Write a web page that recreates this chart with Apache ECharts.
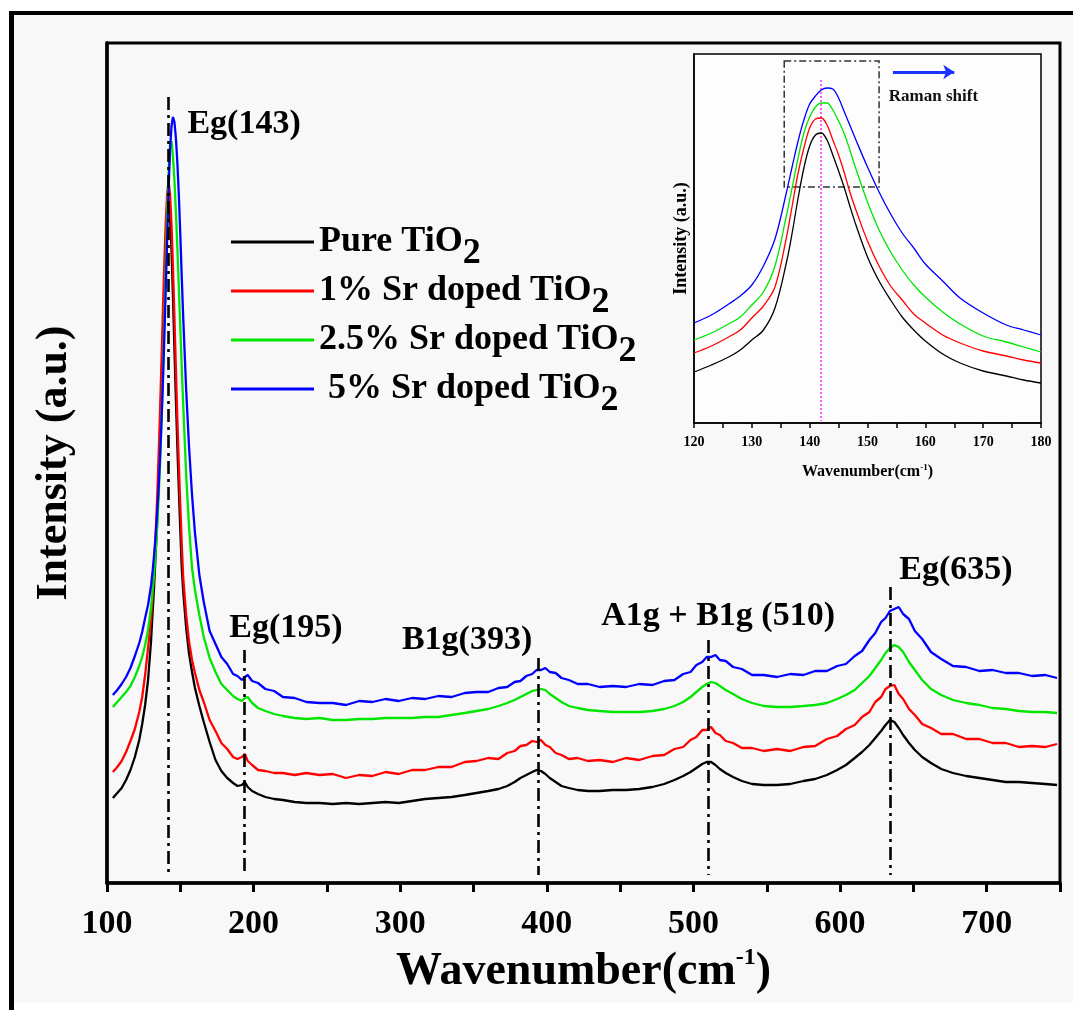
<!DOCTYPE html>
<html><head><meta charset="utf-8">
<script src="https://cdn.jsdelivr.net/npm/echarts/dist/echarts.min.js"></script>
<style>html,body{margin:0;padding:0;background:#fff}#c{width:1073px;height:1010px}</style>
</head><body><div id="c"></div>
<script>
// ---------- DATA (main Raman spectra, intensity in arbitrary units) ----------
const wavenumber = [104,107,110,113,116,119,122,124,126,128,130,
131,132,133,134,135,136,137,138,139,140,141,142,143,144,145,146,147,148,149,150,151,152,
154,156,158,160,
163,166,170,174,178,182,186,189,192,194,196,199,203,208,214,220,228,236,
245,254,263,272,281,290,299,308,317,326,335,344,
352,360,367,373,378,382,386,390,393,396,399,402,406,410,415,421,428,436,445,454,463,472,480,487,493,498,502,506,509,512,515,518,522,527,533,540,548,557,566,575,583,591,598,604,610,615,620,624,628,631,634,637,640,643,647,651,656,662,669,677,686,695,704,713,722,731,740,748];

const pureTiO2 = [202,207,212,220,230,243,260,276,295,320,358,
385,410,440,472,513,559,607,658,707,750,782,795,782,750,703,650,600,553,510,470,432,408,
372,346,328,312,
294,278,258,240,229,222,217,214,215,218,213,209,206,203,201,200,198,197,
197,196,197,196,197,198,197,199,201,202,203,205,
207,209,211,214,218,222,225,228,230,229,226,222,218,214,212,210,209,209,210,210,211,213,216,220,224,228,232,236,238,238,235,231,227,223,219,216,215,215,216,219,221,225,230,235,242,248,255,262,269,275,280,278,272,265,257,250,243,237,231,227,224,222,220,218,218,217,216,215];

const sr1 = [228,233,239,248,259,271,288,303,325,352,380,
402,430,460,494,535,580,630,682,732,775,806,818,806,775,732,682,630,580,535,494,455,422,
385,358,340,327,
310,298,280,269,257,251,243,241,243,246,239,235,230,229,227,227,225,227,
225,226,222,225,224,228,226,230,230,233,233,238,
239,242,241,247,249,254,255,259,258,260,255,253,247,245,241,242,239,240,238,242,240,244,245,251,253,260,263,270,270,273,267,265,259,257,252,252,249,251,249,253,254,261,264,271,275,283,288,298,303,311,314,315,306,301,291,285,276,272,266,266,261,261,257,257,253,254,253,256];

const sr25 = [293,298,303,308,314,323,334,343,355,370,392,
407,424,444,467,496,530,571,617,671,727,783,828,855,859,843,820,788,752,712,672,632,595,
525,472,432,410,
385,363,342,328,316,310,304,301,299,302,303,297,292,289,286,284,282,281,
282,280,280,281,281,282,282,282,283,283,285,287,
289,291,294,297,300,303,306,309,310,311,310,306,302,298,294,292,290,289,288,288,288,289,291,294,298,303,308,313,316,318,317,314,310,306,301,297,294,293,293,294,295,297,301,305,310,317,324,332,340,347,352,355,353,348,338,330,320,311,305,300,297,295,292,291,289,288,288,287];

const sr5 = [305,310,316,323,332,344,357,368,382,395,414,
427,443,461,482,506,537,572,612,658,708,760,810,850,874,883,878,862,837,805,765,722,682,
610,552,505,467,
425,398,369,356,343,336,326,324,320,323,325,319,317,311,309,303,302,298,
297,297,295,299,298,301,299,302,301,304,303,307,
308,308,312,313,318,319,324,326,330,330,332,328,327,322,320,316,316,313,314,313,316,315,319,320,326,328,335,338,343,343,345,340,339,333,331,325,325,323,326,325,329,329,334,336,344,349,360,367,378,382,389,391,393,386,381,369,361,348,341,334,333,329,330,327,327,324,325,322];

// ---------- DATA (inset: zoom of the Eg(143) band) ----------
const insetWavenumber = [120,123,126,128,130,132,134,136,137,138,139,140,141,142,143,144,145,146,147,148,150,152,154,156,158,160,163,166,170,174,177,180];
const insetPure = [128,135,143,150,160,170,192,238,268,302,332,354,365,367,360,345,329,312,293,275,243,219,200,183,170,159,146,137,129,124,120,117];
const insetSr1  = [147,154,163,170,182,194,213,263,295,327,352,372,381,382,375,360,345,327,307,290,259,234,214,200,186,177,165,157,149,144,140,137];
const insetSr25 = [160,167,176,183,195,208,234,285,313,342,367,383,393,397,397,390,379,366,349,331,298,270,248,230,215,203,188,176,164,158,153,148];
const insetSr5  = [177,185,196,204,215,234,261,308,334,359,380,396,404,410,412,411,402,388,374,360,333,308,286,267,252,236,219,202,187,175,170,165];

const seriesNames = ['Pure TiO2', '1% Sr doped TiO2', '2.5% Sr doped TiO2', '5% Sr doped TiO2'];
const xTickLabels = [100, 200, 300, 400, 500, 600, 700];
const insetTickLabels = [120, 130, 140, 150, 160, 170, 180];

// Raman mode annotations (data coordinates)
const peakNames    = ['Eg(143)', 'Eg(195)', 'B1g(393)', 'A1g + B1g (510)', 'Eg(635)'];
const peakLineAt   = [142, 193.5, 394, 510, 634];
const peakLineTop  = [903, 350, 342, 360, 413];
const peakLineBase = 125;
const peakLabelAt  = [[193.5, 876], [222, 372], [345.6, 360], [516.8, 384], [679, 430]];

// ---------- STYLE ----------
const F = "'Liberation Serif','Times New Roman',serif";
const colors = ['#000000', '#ff0000', '#00e600', '#0000ff'];
const mainData = [pureTiO2, sr1, sr25, sr5];
const insetData = [insetPure, insetSr1, insetSr25, insetSr5];

const chart = echarts.init(document.getElementById('c'), null, {renderer: 'canvas'});

const mainSeries = mainData.map((d, i) => {
  const s = {
    type: 'line', name: seriesNames[i], xAxisIndex: 0, yAxisIndex: 0,
    data: wavenumber.map((w, j) => [w, d[j]]),
    symbol: 'none', showSymbol: false,
    lineStyle: {color: colors[i], width: 2.3},
    itemStyle: {color: colors[i]},
    animation: false, z: 3
  };
  if (i === 0) {
    s.markLine = {
      silent: true, symbol: ['none', 'none'], animation: false,
      label: {show: false},
      lineStyle: {color: '#000', width: 2.6, type: [13, 5, 3, 5]},
      data: peakLineAt.map((w, k) => [{coord: [w, peakLineTop[k]]}, {coord: [w, peakLineBase]}])
    };
    s.markPoint = {
      silent: true, symbol: 'circle', symbolSize: 1, animation: false,
      itemStyle: {color: 'rgba(0,0,0,0)'},
      label: {show: true, position: 'inside', color: '#000', fontFamily: F, fontWeight: 'bold', fontSize: 34,
              formatter: p => p.name},
      data: peakNames.map((n, k) => ({name: n, coord: peakLabelAt[k]}))
    };
  }
  return s;
});

const insetSeries = insetData.map((d, i) => {
  const s = {
    type: 'line', name: seriesNames[i], xAxisIndex: 1, yAxisIndex: 1,
    data: insetWavenumber.map((w, j) => [w, d[j]]),
    symbol: 'none', showSymbol: false, smooth: 0.35,
    lineStyle: {color: colors[i], width: 1.3},
    itemStyle: {color: colors[i]},
    animation: false, z: 5
  };
  if (i === 0) {
    s.markPoint = {
      silent: true, symbol: 'circle', symbolSize: 1, animation: false,
      itemStyle: {color: 'rgba(0,0,0,0)'},
      label: {show: true, position: 'inside', color: '#111', fontFamily: F, fontWeight: 'bold', fontSize: 17,
              formatter: p => p.name},
      data: [{name: 'Raman shift', coord: [161.4, 403]}]
    };
  }
  if (i === 1) {
    s.markLine = {
      silent: true, symbol: ['none', 'none'], animation: false, label: {show: false},
      lineStyle: {color: '#ff33ff', width: 1.6, type: [2, 2]},
      data: [[{coord: [141.9, 420]}, {coord: [141.9, 79]}]]
    };
  }
  if (i === 2) {
    s.markArea = {
      silent: true, animation: false,
      itemStyle: {color: 'rgba(0,0,0,0)', borderColor: '#333', borderWidth: 1.5, borderType: [7, 3, 2, 3]},
      data: [[{coord: [135.6, 439]}, {coord: [152, 313]}]]
    };
  }
  if (i === 3) {
    s.markLine = {
      silent: true, symbol: ['none', 'arrow'], symbolSize: [11, 11], animation: false, label: {show: false},
      lineStyle: {color: '#1a33ff', width: 3, type: 'solid'},
      data: [[{coord: [154.4, 428]}, {coord: [165, 428]}]]
    };
  }
  return s;
});

const boldT = {fontFamily: F, fontWeight: 'bold', color: '#000'};

const option = {
  animation: false,
  backgroundColor: '#f8f8f8',
  grid: [
    {left: 107, top: 43, width: 953, height: 840, show: true, borderColor: '#000', borderWidth: 3, backgroundColor: 'rgba(0,0,0,0)'},
    {left: 694, top: 54, width: 347, height: 369, show: true, borderColor: '#000', borderWidth: 1.5, backgroundColor: '#fdfdfd'}
  ],
  legend: {
    orient: 'vertical', left: 226, top: 207, itemWidth: 83, itemHeight: 3, itemGap: -11,
    icon: 'rect', selectedMode: false, data: seriesNames,
    formatter: name => '{a|' + (name.indexOf('5%') === 0 ? ' ' : '') + name.slice(0, -1) + '}{s|2}',
    textStyle: {
      rich: {
        a: Object.assign({fontSize: 36, lineHeight: 25, padding: [12, 0, 12, 0]}, boldT),
        s: Object.assign({fontSize: 36, lineHeight: 25, padding: [24, 0, 0, 0]}, boldT)
      }
    }
  },
  xAxis: [
    {
      type: 'value', gridIndex: 0, min: 100, max: 750, interval: 50,
      axisLine: {lineStyle: {color: '#000', width: 3.5}},
      axisTick: {show: true, length: 9, lineStyle: {color: '#000', width: 3}},
      axisLabel: Object.assign({margin: 24, fontSize: 34,
        formatter: v => (xTickLabels.indexOf(v) >= 0 ? String(v) : '')}, boldT),
      splitLine: {show: false},
      name: '{a|Wavenumber(cm}{s|-1}{a|)}', nameLocation: 'middle', nameGap: 60,
      nameTextStyle: {rich: {
        a: Object.assign({fontSize: 46, lineHeight: 52}, boldT),
        s: Object.assign({fontSize: 24, lineHeight: 24, verticalAlign: 'top'}, boldT)
      }}
    },
    {
      type: 'value', gridIndex: 1, min: 120, max: 180, interval: 10,
      axisLine: {lineStyle: {color: '#000', width: 1.5}},
      axisTick: {show: true, length: 5, lineStyle: {color: '#000', width: 1.5}},
      minorTick: {show: true, splitNumber: 2, length: 5, lineStyle: {color: '#000', width: 1.5}},
      axisLabel: Object.assign({margin: 12, fontSize: 14,
        formatter: v => (insetTickLabels.indexOf(v) >= 0 ? String(v) : '')}, boldT),
      splitLine: {show: false}, minorSplitLine: {show: false},
      name: '{a|Wavenumber(cm}{s|-1}{a|)}', nameLocation: 'middle', nameGap: 40,
      nameTextStyle: {rich: {
        a: Object.assign({fontSize: 16, lineHeight: 18}, boldT),
        s: Object.assign({fontSize: 9, lineHeight: 9, verticalAlign: 'top'}, boldT)
      }}
    }
  ],
  yAxis: [
    {
      type: 'value', gridIndex: 0, min: 117, max: 957,
      axisLine: {show: true, lineStyle: {color: '#000', width: 3.5}},
      axisTick: {show: false}, axisLabel: {show: false}, splitLine: {show: false},
      name: 'Intensity (a.u.)', nameLocation: 'middle', nameGap: 30,
      nameTextStyle: Object.assign({fontSize: 44}, boldT)
    },
    {
      type: 'value', gridIndex: 1, min: 77, max: 446,
      axisLine: {show: true, lineStyle: {color: '#000', width: 1.5}},
      axisTick: {show: false}, axisLabel: {show: false}, splitLine: {show: false},
      name: 'Intensity (a.u.)', nameLocation: 'middle', nameGap: 4,
      nameTextStyle: Object.assign({fontSize: 18}, boldT)
    }
  ],
  graphic: [
    {type: 'rect', silent: true, shape: {x: 0, y: 0, width: 1073, height: 11}, style: {fill: '#ffffff'}},
    {type: 'rect', silent: true, shape: {x: 0, y: 0, width: 9, height: 1010}, style: {fill: '#ffffff'}},
    {type: 'rect', silent: true, shape: {x: 0, y: 1003, width: 1073, height: 7}, style: {fill: '#ffffff'}},
    {type: 'rect', silent: true, shape: {x: 9, y: 11, width: 1064, height: 4}, style: {fill: '#000000'}},
    {type: 'rect', silent: true, shape: {x: 9, y: 11, width: 5, height: 999}, style: {fill: '#000000'}}
  ],
  series: mainSeries.concat(insetSeries)
};
chart.setOption(option);
</script>
</body></html>
